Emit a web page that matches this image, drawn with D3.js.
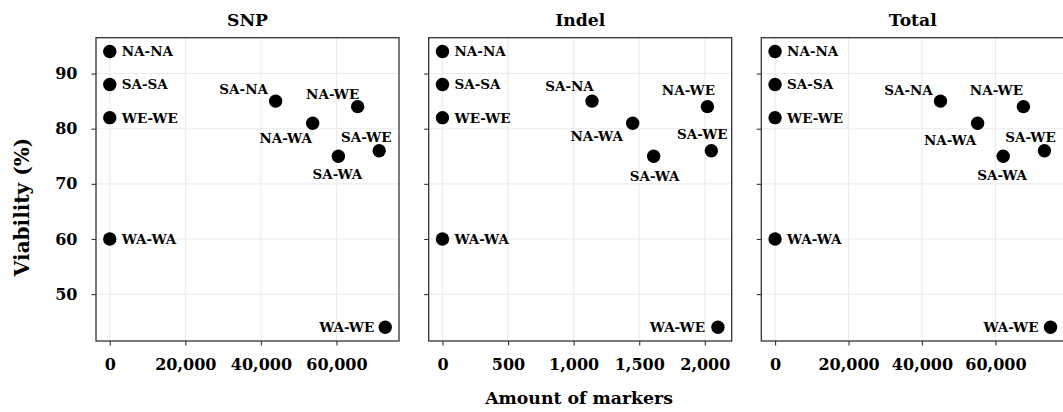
<!DOCTYPE html>
<html>
<head>
<meta charset="utf-8">
<script src="https://cdn.jsdelivr.net/npm/d3@7"></script>
<style>
  html, body { margin: 0; padding: 0; background: #fff; }
  svg { display: block; }
  text { font-family: "DejaVu Serif", serif; font-weight: bold; fill: #000; }
</style>
</head>
<body>
<svg id="chart" width="1063" height="412"></svg>
<script>
// Crosses between populations and their viability
const pairs     = ["NA-NA", "SA-SA", "WE-WE", "WA-WA", "SA-NA", "NA-WE", "NA-WA", "SA-WE", "SA-WA", "WA-WE"];
const viability = [94, 88, 82, 60, 85, 84, 81, 76, 75, 44];

// Number of differing markers per cross, by marker type
const snpMarkers   = [0, 0, 0, 0, 43900, 65600, 53700, 71300, 60500, 72900];
const indelMarkers = [0, 0, 0, 0, 1140, 2020, 1450, 2050, 1610, 2100];
const totalMarkers = [0, 0, 0, 0, 45040, 67620, 55150, 73350, 62110, 75000];

const panelTitles = ["SNP", "Indel", "Total"];
const panelSeries = [snpMarkers, indelMarkers, totalMarkers];
const xTicks = [
  [0, 20000, 40000, 60000],
  [0, 500, 1000, 1500, 2000],
  [0, 20000, 40000, 60000]
];
const yTicks = [50, 60, 70, 80, 90];

// Label placement around each point: [dx, dy, anchor]
const labelPlacement = [
  { "SA-NA": [-32, -11.5, "middle"], "NA-WE": [-25, -12.5, "middle"], "NA-WA": [-27, 15, "middle"],
    "SA-WE": [-13, -14, "middle"], "SA-WA": [-1, 18, "middle"], "WA-WE": [-11, 0, "end"] },
  { "SA-NA": [-22.5, -15, "middle"], "NA-WE": [-19, -16, "middle"], "NA-WA": [-36, 13, "middle"],
    "SA-WE": [-9, -17, "middle"], "SA-WA": [1, 20, "middle"], "WA-WE": [-13, 0, "end"] },
  { "SA-NA": [-32, -11, "middle"], "NA-WE": [-27, -16, "middle"], "NA-WA": [-27.5, 17, "middle"],
    "SA-WE": [-14, -14, "middle"], "SA-WA": [-1, 19, "middle"], "WA-WE": [-12, 0, "end"] }
];
const sideLabel = [12, 0, "start"];

const svg = d3.select("#chart");
const panelTop = 37.7, panelBottom = 341, panelWidth = 303;
const panelLefts = [96, 428.7, 761.3];

// Shared y scale with 5% padding on the data range
const yExt = d3.extent(viability);
const yPad = (yExt[1] - yExt[0]) * 0.05;
const y = d3.scaleLinear().domain([yExt[0] - yPad, yExt[1] + yPad]).range([panelBottom, panelTop]);

const fmt = d3.format(",");

panelSeries.forEach((series, p) => {
  const left = panelLefts[p];
  const xExt = d3.extent(series);
  const xPad = (xExt[1] - xExt[0]) * 0.05;
  const x = d3.scaleLinear().domain([xExt[0] - xPad, xExt[1] + xPad]).range([left, left + panelWidth]);

  const g = svg.append("g");

  // grid
  g.selectAll(".gx").data(xTicks[p]).join("line")
    .attr("x1", d => x(d)).attr("x2", d => x(d))
    .attr("y1", panelTop).attr("y2", panelBottom)
    .attr("stroke", "#ebebeb").attr("stroke-width", 1.1);
  g.selectAll(".gy").data(yTicks).join("line")
    .attr("x1", left).attr("x2", left + panelWidth)
    .attr("y1", d => y(d)).attr("y2", d => y(d))
    .attr("stroke", "#ebebeb").attr("stroke-width", 1.1);

  // x axis
  const xAxis = g.append("g")
    .attr("transform", `translate(0,${panelBottom})`)
    .call(d3.axisBottom(x).tickValues(xTicks[p]).tickFormat(fmt).tickSize(4.5).tickPadding(5));
  xAxis.select(".domain").remove();
  xAxis.selectAll(".tick line").attr("stroke", "#333").attr("stroke-width", 1.1);
  xAxis.selectAll(".tick text").attr("font-size", 16).attr("font-family", "DejaVu Serif")
    .attr("font-weight", "bold").attr("fill", "#111").attr("dy", "1.22em");

  // y axis
  const yAxis = g.append("g")
    .attr("transform", `translate(${left},0)`)
    .call(d3.axisLeft(y).tickValues(yTicks).tickSize(4.5).tickPadding(14)
      .tickFormat(p === 0 ? d3.format("d") : () => ""));
  yAxis.select(".domain").remove();
  yAxis.selectAll(".tick line").attr("stroke", "#333").attr("stroke-width", 1.1);
  yAxis.selectAll(".tick text").attr("font-size", 16).attr("font-family", "DejaVu Serif")
    .attr("font-weight", "bold").attr("fill", "#111");

  // panel border
  g.append("rect")
    .attr("x", left).attr("y", panelTop)
    .attr("width", panelWidth).attr("height", panelBottom - panelTop)
    .attr("fill", "none").attr("stroke", "#333").attr("stroke-width", 1.3);

  // points
  g.selectAll("circle").data(pairs).join("circle")
    .attr("cx", (d, i) => x(series[i]))
    .attr("cy", (d, i) => y(viability[i]))
    .attr("r", 6.7).attr("fill", "#000");

  // point labels
  g.selectAll(".lbl").data(pairs).join("text")
    .attr("class", "lbl")
    .each(function (d, i) {
      const place = series[i] === 0 ? sideLabel : labelPlacement[p][d];
      d3.select(this)
        .attr("x", x(series[i]) + place[0])
        .attr("y", y(viability[i]) + place[1])
        .attr("dy", "0.36em")
        .attr("text-anchor", place[2]);
    })
    .attr("font-size", 13.5)
    .text(d => d);

  // panel title
  g.append("text")
    .attr("x", left + panelWidth / 2).attr("y", 26)
    .attr("text-anchor", "middle").attr("font-size", 17.2)
    .text(panelTitles[p]);
});

// axis titles
svg.append("text")
  .attr("x", 579).attr("y", 404)
  .attr("text-anchor", "middle").attr("font-size", 17.3)
  .text("Amount of markers");

svg.append("text")
  .attr("transform", "translate(28.5,207) rotate(-90)")
  .attr("text-anchor", "middle").attr("font-size", 20)
  .text("Viability (%)");
</script>
</body>
</html>
